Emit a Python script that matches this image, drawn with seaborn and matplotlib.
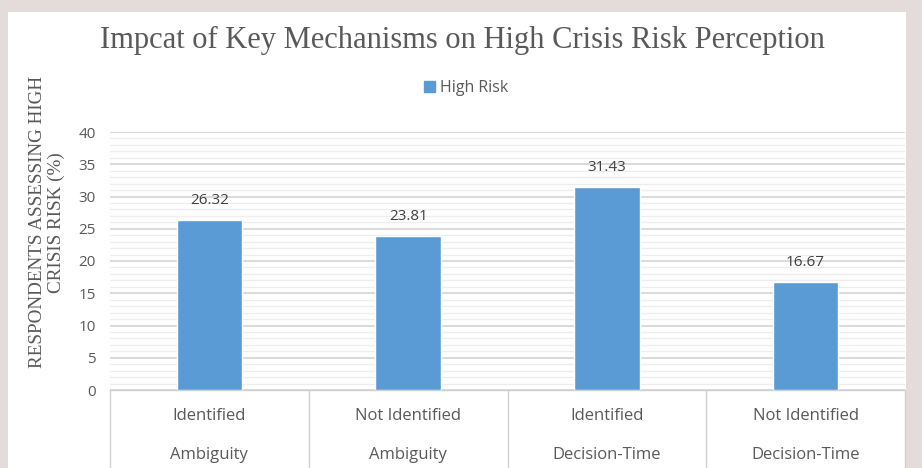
import matplotlib
matplotlib.use("Agg")
import matplotlib.pyplot as plt
import matplotlib.patches as mpatches
import matplotlib.transforms as mtransforms
from matplotlib.ticker import MultipleLocator
import pandas as pd
import seaborn as sns

# Chart data
mechanisms = ["Ambiguity", "Ambiguity", "Decision-Time", "Decision-Time"]
statuses = ["Identified", "Not Identified", "Identified", "Not Identified"]
high_risk = [26.32, 23.81, 31.43, 16.67]
y_ticks = [0, 5, 10, 15, 20, 25, 30, 35, 40]

title = "Impcat of Key Mechanisms on High Crisis Risk Perception"
y_label = "RESPONDENTS ASSESSING HIGH\nCRISIS RISK (%)"
series_name = "High Risk"

bar_color = "#5B9BD5"
text_gray = "#595959"
sans = ["Open Sans", "DejaVu Sans"]
serif = ["Liberation Serif", "DejaVu Serif"]

df = pd.DataFrame({
    "category": [f"{s}\n{m}" for s, m in zip(statuses, mechanisms)],
    "value": high_risk,
})

sns.set_theme(style="white")
plt.rcParams["font.family"] = sans

fig = plt.figure(figsize=(9.22, 4.68), dpi=100)
fig.patch.set_facecolor("#E4DCDA")
# white card behind the chart
W, H = 922, 468
card = mpatches.Rectangle((8 / W, 0), (906 - 8) / W, (468 - 12) / H,
                          transform=fig.transFigure, facecolor="white",
                          edgecolor="none", zorder=-10)
fig.patches.append(card)

ax = fig.add_axes([110 / W, 78 / H, (905 - 110) / W, (390 - 132) / H])
ax.set_facecolor("none")
ax.set_zorder(1)

sns.barplot(data=df, x="category", y="value", color=bar_color, width=0.33,
            saturation=1, ax=ax, zorder=3)

ax.set_ylim(0, 40)
ax.set_xlim(-0.5, len(high_risk) - 0.5)
ax.set_yticks(y_ticks)
ax.yaxis.set_minor_locator(MultipleLocator(1))
ax.grid(axis="y", which="major", color="#D4D4D4", linewidth=1.2, zorder=0)
ax.grid(axis="y", which="minor", color="#EDEDED", linewidth=0.9, zorder=0)
ax.set_axisbelow(True)
for side in ["top", "right", "left"]:
    ax.spines[side].set_visible(False)
ax.spines["bottom"].set_color("#D0D0D0")
ax.spines["bottom"].set_linewidth(1.0)
ax.tick_params(axis="y", which="both", length=0, labelsize=11, colors=text_gray, pad=10)
ax.tick_params(axis="x", length=0, labelbottom=False)
ax.set_xlabel("")
ax.set_ylabel(y_label, family=serif, fontsize=13.8, color=text_gray,
              linespacing=1.2)
ax.yaxis.set_label_coords(-0.056, 0.65)

# value labels above bars
for i, v in enumerate(high_risk):
    ax.text(i, v + 3.1, f"{v:.2f}", ha="center", va="center",
            fontsize=11, color="#404040")

# two-level category axis with separators
trans = mtransforms.blended_transform_factory(ax.transData, ax.transAxes)
n = len(high_risk)
for b in range(n + 1):
    ax.plot([b - 0.5, b - 0.5], [0, -0.32], transform=trans, color="#D0D0D0",
            linewidth=1.0, clip_on=False)
for i, (s, m) in enumerate(zip(statuses, mechanisms)):
    ax.text(i, -0.1, s, transform=trans, ha="center", va="center",
            fontsize=12, color=text_gray)
    ax.text(i, -0.252, m, transform=trans, ha="center", va="center",
            fontsize=12, color=text_gray)

fig.text(462 / W, 1 - 40 / H, title, ha="center", va="center",
         family=serif, fontsize=22, color=text_gray)

handle = mpatches.Patch(color=bar_color, label=series_name)
fig.legend(handles=[handle], loc="center", bbox_to_anchor=(466 / W, 1 - 88 / H),
           frameon=False, fontsize=11.5, handlelength=0.7, handleheight=0.7,
           handletextpad=0.3, labelcolor=text_gray)

fig.savefig("out.png", dpi=100)
